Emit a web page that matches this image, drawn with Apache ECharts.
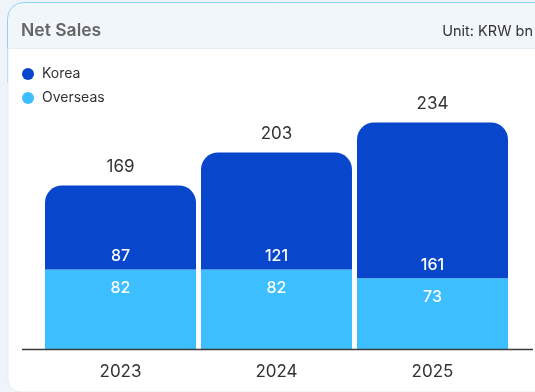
<!DOCTYPE html>
<html>
<head>
<meta charset="utf-8">
<script src="https://cdn.jsdelivr.net/npm/echarts@6/dist/echarts.min.js"></script>
<style>
  html, body { margin: 0; padding: 0; background: #eef4f9; }
  #chart { width: 535px; height: 392px; }
</style>
</head>
<body>
<div id="chart"></div>
<script>
// Net sales by region, KRW bn
const years = ['2023', '2024', '2025'];
const korea = [87, 121, 161];
const overseas = [82, 82, 73];
const totals = [169, 203, 234];

const FONT = 'Inter, "Noto Sans", sans-serif';
const chart = echarts.init(document.getElementById('chart'));

chart.setOption({
  backgroundColor: 'transparent',
  textStyle: { fontFamily: FONT },
  animation: false,
  graphic: [
    {
      type: 'rect', z: -10, silent: true,
      shape: { x: 7.5, y: 2.5, width: 560, height: 80, r: [16, 0, 0, 0] },
      style: { fill: '#f1f6fb', stroke: '#8fd4f6', lineWidth: 1 }
    },
    {
      type: 'rect', z: -9, silent: true,
      shape: { x: 8, y: 48.5, width: 540, height: 343.5, r: [0, 0, 0, 12] },
      style: { fill: '#ffffff', stroke: '#e4edf4', lineWidth: 1 }
    },
    {
      type: 'line', z: 10, silent: true,
      shape: { x1: 22, y1: 349.5, x2: 533, y2: 349.5 },
      style: { stroke: '#3a3a3a', lineWidth: 1.5 }
    }
  ],
  title: [
    {
      text: 'Net Sales', left: 16, top: 17,
      textStyle: { fontFamily: FONT, fontSize: 17.5, fontWeight: 600, color: '#666666' }
    },
    {
      text: 'Unit: KRW bn', right: -3, top: 19,
      textStyle: { fontFamily: FONT, fontSize: 14.5, fontWeight: 'normal', color: '#333333' }
    }
  ],
  legend: {
    data: ['Korea', 'Overseas'],
    orient: 'vertical', left: 17, top: 62,
    icon: 'circle', itemWidth: 12, itemHeight: 12, itemGap: 10,
    textStyle: { fontFamily: FONT, fontSize: 14, color: '#333333', padding: [0, 0, 0, 3] }
  },
  grid: { left: 42.5, right: 24.5, top: 107, bottom: 43 },
  xAxis: {
    type: 'category', data: years,
    axisLine: { show: false }, axisTick: { show: false },
    axisLabel: { fontFamily: FONT, fontSize: 17, color: '#333333', margin: 14 }
  },
  yAxis: {
    type: 'value', min: 0, max: 250, show: false,
    splitLine: { show: false }
  },
  series: [
    {
      name: 'Overseas', type: 'bar', stack: 'sales', data: overseas,
      barWidth: 151,
      itemStyle: { color: '#3dbfff' },
      label: {
        show: true, position: 'insideTop', distance: 11,
        fontFamily: FONT, fontSize: 16, fontWeight: 500, color: '#ffffff'
      }
    },
    {
      name: 'Korea', type: 'bar', stack: 'sales', data: korea,
      barWidth: 151,
      itemStyle: { color: '#0846cc', borderRadius: [17, 17, 0, 0] },
      label: {
        show: true, position: 'insideBottom', distance: 5,
        fontFamily: FONT, fontSize: 16, fontWeight: 500, color: '#ffffff'
      }
    },
    {
      name: 'Total', type: 'bar', stack: 'sales', data: [0, 0, 0],
      barWidth: 151,
      itemStyle: { color: 'transparent' },
      label: {
        show: true, position: 'top', distance: 10,
        formatter: p => totals[p.dataIndex],
        fontFamily: FONT, fontSize: 17, color: '#333333'
      }
    }
  ]
});
</script>
</body>
</html>
